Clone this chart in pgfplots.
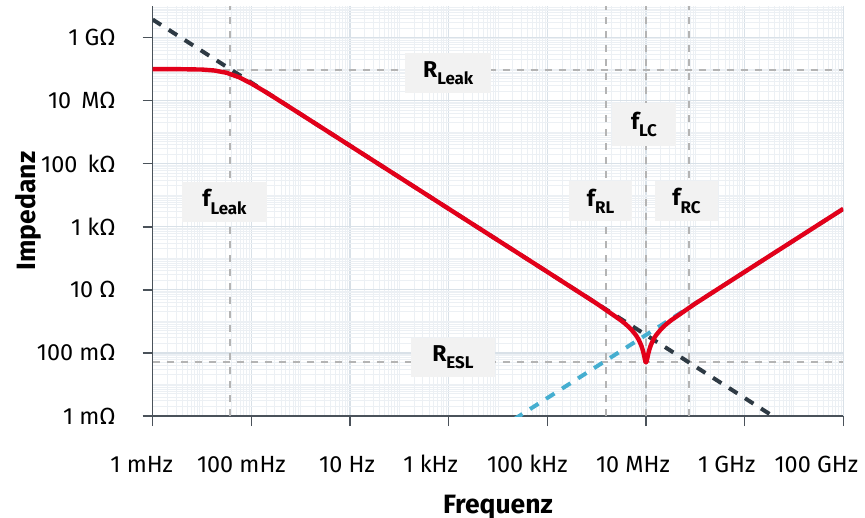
\documentclass[border=0pt]{standalone}
\usepackage{fontspec}
\setmainfont{Fira Sans}
\usepackage{pgfplots}
\pgfplotsset{compat=1.18}
\definecolor{redc}{HTML}{E2001A}
\definecolor{darkc}{HTML}{2E3A44}
\definecolor{bluec}{HTML}{45AED0}
\definecolor{grayd}{HTML}{B4B4B4}
\definecolor{boxc}{HTML}{F2F2F2}
\definecolor{gridmaj}{HTML}{D9E1E8}
\definecolor{gridmin}{HTML}{ECF0F4}
\definecolor{axc}{HTML}{4A525A}
\newcommand{\sh}[2]{\makebox[0pt]{\hspace*{#1}#2}}
\newcommand{\lbl}[2]{{\bfseries\fontsize{11.5}{12}\selectfont #1\raisebox{-3.6bp}{\fontsize{8.5}{9}\selectfont #2}}}
\def\mxt{}
\foreach \k in {-3,...,10}{\foreach \m in {2,...,9}{\xdef\mxt{\mxt\m e\k,}}}
\def\myt{}
\foreach \k in {-3,...,9}{\foreach \m in {2,...,9}{\xdef\myt{\myt\m e\k,}}}
\begin{document}
\begin{tikzpicture}
\begin{axis}[
  scale only axis, width=345.3bp, height=205bp,
  xmode=log, ymode=log,
  xmin=1e-3, xmax=1e11, ymin=1e-3, ymax=1e10,
  axis lines*=left,
  axis line style={color=axc, line width=0.8bp},
  tick align=outside, major tick length=5bp, minor tick length=0pt,
  tick style={color=axc, line width=0.8bp},
  xtick={1e-3,1e-1,1e1,1e3,1e5,1e7,1e9,1e11},
  xticklabels={\sh{-11bp}{1 mHz},\sh{-10bp}{100 mHz},\sh{-3bp}{10 Hz},\sh{-18bp}{1 kHz},\sh{-20bp}{100 kHz},\sh{-13bp}{10 MHz},\sh{-18bp}{1 GHz},\sh{-27bp}{100 GHz}},
  ytick={1e-3,1e-1,1e1,1e3,1e5,1e7,1e9},
  yticklabels={1 mΩ,100 mΩ,10 Ω,1 kΩ,100\hspace{5bp}kΩ,10\hspace{5bp}MΩ,1 GΩ},
  minor xtick/.expanded={\mxt 1e-2,1e0,1e2,1e4,1e6,1e8,1e10},
  minor ytick/.expanded={\myt 1e-2,1e0,1e2,1e4,1e6,1e8},
  grid=both,
  major grid style={color=gridmaj, line width=0.6bp},
  minor grid style={color=gridmin, line width=0.5bp},
  xticklabel style={font=\fontsize{11.75}{13}\selectfont, anchor=base, inner sep=0pt, yshift=-23.5bp},
  yticklabel style={font=\fontsize{11.75}{13}\selectfont, anchor=east, inner sep=0pt, xshift=-13.3bp},
  xlabel={Frequenz}, ylabel={Impedanz},
  every axis x label/.style={at={(axis description cs:0.5,-0.2366)}, anchor=base, font=\bfseries\fontsize{13.3}{15}\selectfont},
  every axis y label/.style={at={(axis description cs:-0.1796,0.5)}, rotate=90, anchor=center, font=\bfseries\fontsize{13.3}{15}\selectfont},
  clip=true,
]
% reference lines
\addplot[grayd, line width=1bp, dash pattern=on 3.5bp off 3.5bp] coordinates {(0.0369,1e-3) (0.0369,1e10)};
\addplot[grayd, line width=1bp, dash pattern=on 3.5bp off 3.5bp] coordinates {(1.514e6,1e-3) (1.514e6,1e10)};
\addplot[grayd, line width=1bp, dash pattern=on 3.5bp off 3.5bp] coordinates {(1e7,1e-3) (1e7,1e10)};
\addplot[grayd, line width=1bp, dash pattern=on 3.5bp off 3.5bp] coordinates {(7.586e7,1e-3) (7.586e7,1e10)};
\addplot[grayd, line width=1bp, dash pattern=on 3.5bp off 3.5bp] coordinates {(1e-3,9.4e7) (1e11,9.4e7)};
\addplot[grayd, line width=1bp, dash pattern=on 3.5bp off 3.5bp] coordinates {(1e-3,0.0505) (1e11,0.0505)};
% label boxes
\node[fill=boxc, minimum width=43bp, minimum height=20bp, inner sep=0pt] at (axis cs:980,7.5e7) {\lbl{R}{Leak}};
\node[fill=boxc, minimum width=42.5bp, minimum height=20bp, inner sep=0pt] at (axis cs:0.0285,6.1e3) {\lbl{f}{Leak}};
\node[fill=boxc, minimum width=32bp, minimum height=21.5bp, inner sep=0pt] at (axis cs:9.1e6,1.75e6) {\lbl{f}{LC}};
\node[fill=boxc, minimum width=31.5bp, minimum height=20bp, inner sep=0pt] at (axis cs:1.2e6,6.56e3) {\lbl{f}{RL}};
\node[fill=boxc, minimum width=31.5bp, minimum height=20bp, inner sep=0pt] at (axis cs:6.62e7,6.56e3) {\lbl{f}{RC}};
\node[fill=boxc, minimum width=42bp, minimum height=19.5bp, inner sep=0pt] at (axis cs:1.22e3,0.0716) {\lbl{R}{ESL}};
% asymptotes
\addplot[bluec, line width=2bp, dash pattern=on 5bp off 4.5bp] coordinates {(1e4,3.715e-4) (1e11,3715)};
\addplot[darkc, line width=2bp, dash pattern=on 5bp off 4.5bp] coordinates {(1e-3,3.715e9) (1e10,3.715e-4)};
% impedance
\addplot[redc, line width=2.2bp, line join=round] coordinates {
(1e-3,1e8) (3.162e-3,9.954e7) (1e-2,9.66e7) (1.778e-2,9.016e7) (3.162e-2,7.621e7)
(5.623e-2,5.508e7) (0.1,3.483e7) (0.1778,2.046e7) (0.3162,1.167e7) (1,3.715e6)
(1e5,37.15) (1e6,3.678) (3.162e6,1.0585) (3.981e6,0.7869) (5.012e6,0.5573)
(6.310e6,0.3579) (7.079e6,0.2665) (7.943e6,0.1797) (8.414e6,0.1383) (8.913e6,0.09925)
(9.333e6,0.07169) (9.550e6,0.0606) (9.772e6,0.05285) (1e7,0.05) (1.0233e7,0.05285)
(1.0471e7,0.0606) (1.0715e7,0.07169) (1.1220e7,0.09925) (1.1885e7,0.1383) (1.2589e7,0.1797)
(1.4125e7,0.2665) (1.5849e7,0.3579) (1.9953e7,0.5573) (2.5119e7,0.7869) (3.1623e7,1.0585)
(1e8,3.678) (1e9,37.15) (1e11,3715)};
\end{axis}
\pgfresetboundingbox
\path[use as bounding box] ([xshift=-76.35bp,yshift=-51bp]current axis.south west) rectangle ([xshift=10.85bp,yshift=3bp]current axis.north east);
\end{tikzpicture}
\end{document}
